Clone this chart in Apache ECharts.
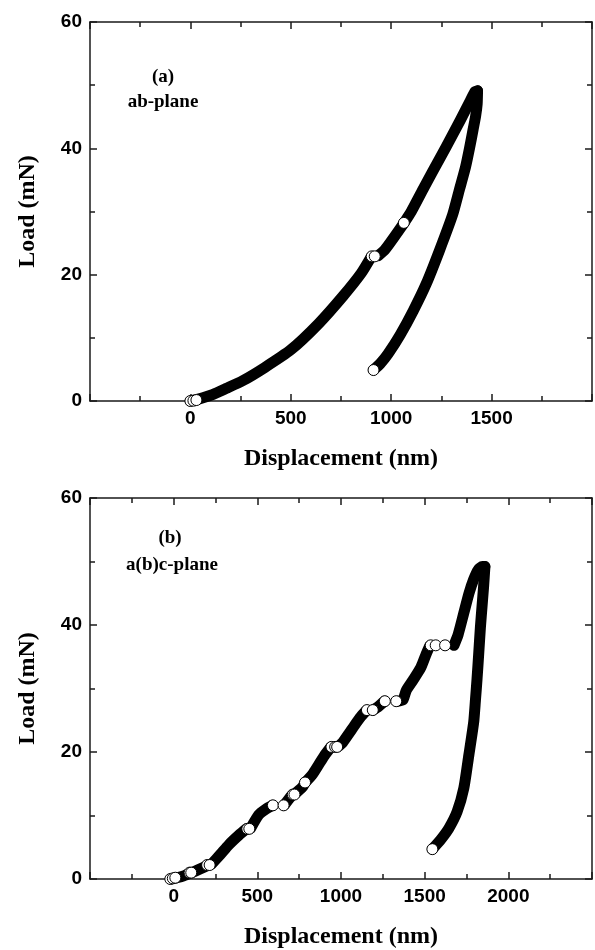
<!DOCTYPE html>
<html>
<head>
<meta charset="utf-8">
<script src="https://cdn.jsdelivr.net/npm/echarts@6/dist/echarts.min.js"></script>
<style>
  html, body { margin: 0; padding: 0; background: #fff; }
  #chart { width: 595px; height: 950px; }
</style>
</head>
<body>
<div id="chart"></div>
<script>
// ---- data: [displacement nm, load mN] ----
// (a) ab-plane, loading branch (split at the pop-ins)
var loadA = [
    [[0, 0], [40, 0.3], [110, 1.0], [180, 2.0], [260, 3.2], [370, 5.3], [500, 8.1], [640, 12.3], [760, 16.6], [850, 20.2], [900, 22.8]],
    [[935, 23.0], [970, 24.0], [1060, 28.0]],
    [[1066, 28.3], [1100, 30.0], [1165, 33.9], [1247, 38.7], [1300, 41.8], [1345, 44.5], [1390, 47.3], [1418, 49.0], [1430, 49.1]]
];
var unloadA = [[1430, 49.1], [1428, 47], [1420, 45], [1408, 43], [1390, 40], [1370, 37], [1340, 33.5], [1306, 29.5], [1240, 23.8], [1175, 18.6], [1110, 14.3], [1045, 10.5], [985, 7.5], [945, 5.9], [912, 4.9]];
var openA = [[0, 0], [15, 0.05], [30, 0.15], [903, 22.9], [918, 22.9], [1063, 28.2], [912, 4.9]];

// (b) a(b)c-plane
var loadB = [
    [[-15, 0], [20, 0.2], [60, 0.5], [100, 0.95]],
    [[110, 1.0], [150, 1.5], [200, 2.1]],
    [[225, 2.3], [280, 3.9], [330, 5.4], [390, 6.9], [435, 7.9]],
    [[460, 8.0], [508, 10.1], [550, 11.0], [590, 11.6]],
    [[660, 11.6], [700, 13.0], [712, 13.3]],
    [[725, 13.4], [770, 14.5], [785, 15.2]],
    [[790, 15.3], [830, 16.5], [864, 17.9], [900, 19.4], [940, 20.8]],
    [[985, 20.9], [1010, 21.5], [1050, 23.0], [1081, 24.2], [1120, 25.6], [1150, 26.5]],
    [[1190, 26.6], [1225, 27.2], [1260, 28.0]],
    [[1340, 28.0], [1370, 28.2], [1390, 29.7], [1430, 31.3], [1477, 33.3], [1510, 35.5], [1530, 36.7]],
    [[1675, 36.8], [1700, 38.5], [1734, 41.9], [1765, 45.0], [1793, 47.2], [1820, 48.7], [1845, 49.2], [1860, 49.2]]
];
var unloadB = [[1860, 49.2], [1852, 46], [1843, 43], [1833, 39.6], [1823, 35.5], [1813, 31.5], [1803, 28], [1793, 24.7], [1764, 19.5], [1734, 14.3], [1694, 10.6], [1645, 8.0], [1596, 6.2], [1546, 4.7]];
var openB = [[-20, 0], [-5, 0.1], [10, 0.2], [95, 1.0], [105, 1.0], [200, 2.2], [215, 2.2], [440, 7.9], [452, 7.9], [593, 11.6], [657, 11.6], [712, 13.3], [722, 13.3], [785, 15.2], [943, 20.8], [965, 20.8], [977, 20.8], [1155, 26.6], [1190, 26.6], [1262, 28.0], [1330, 28.0], [1536, 36.8], [1566, 36.8], [1622, 36.8], [1546, 4.7]];

var xMaxA = 2000, xMaxB = 2500;
var yTicks = [0, 20, 40, 60];

var axisColor = '#1a1a1a';
var sansBold = { fontFamily: 'Liberation Sans', fontWeight: 'bold', fontSize: 19, color: '#000' };
var serifBold = { fontFamily: 'Liberation Serif', fontWeight: 'bold', fontSize: 24, color: '#000' };
var noteFont = 'bold 19px "Liberation Serif"';

function xAxisOf(grid, pos, max, withLabels) {
    return {
        type: 'value', gridIndex: grid, position: pos,
        min: -500, max: max, interval: 500,
        name: withLabels ? 'Displacement (nm)' : '',
        nameLocation: 'middle', nameGap: 46, nameTextStyle: serifBold,
        axisLine: { onZero: false, lineStyle: { color: axisColor, width: 1.5 } },
        axisTick: { inside: true, length: 7, lineStyle: { color: axisColor, width: 1.5 } },
        minorTick: { show: true, splitNumber: 2, length: 5, lineStyle: { color: axisColor, width: 1.5 } },
        splitLine: { show: false },
        axisLabel: {
            show: withLabels, margin: 8, ...sansBold,
            formatter: function (v) { return (v < 0 || v >= max) ? '' : String(v); }
        }
    };
}

function yAxisOf(grid, pos, withLabels) {
    return {
        type: 'value', gridIndex: grid, position: pos,
        min: yTicks[0], max: yTicks[yTicks.length - 1], interval: 20,
        name: withLabels ? 'Load (mN)' : '',
        nameLocation: 'middle', nameGap: 50, nameTextStyle: serifBold,
        axisLine: { onZero: false, lineStyle: { color: axisColor, width: 1.5 } },
        axisTick: { inside: true, length: 7, lineStyle: { color: axisColor, width: 1.5 } },
        minorTick: { show: true, splitNumber: 2, length: 5, lineStyle: { color: axisColor, width: 1.5 } },
        splitLine: { show: false },
        axisLabel: { show: withLabels, margin: 8, ...sansBold }
    };
}

function band(data, xi, yi) {
    return {
        type: 'line', xAxisIndex: xi, yAxisIndex: yi, data: data,
        symbol: 'none', showSymbol: false, smooth: 0.2,
        lineStyle: { color: '#000', width: 11, cap: 'round', join: 'round' },
        z: 2, silent: true
    };
}

function circles(data, xi, yi) {
    return {
        type: 'scatter', xAxisIndex: xi, yAxisIndex: yi, data: data,
        symbol: 'circle', symbolSize: 11,
        itemStyle: { color: '#fff', borderColor: '#000', borderWidth: 1, opacity: 1 },
        z: 5, silent: true
    };
}

var series = [];
loadA.forEach(function (seg) { series.push(band(seg, 0, 0)); });
series.push(band(unloadA, 0, 0));
series.push(circles(openA, 0, 0));
loadB.forEach(function (seg) { series.push(band(seg, 2, 2)); });
series.push(band(unloadB, 2, 2));
series.push(circles(openB, 2, 2));

var chart = echarts.init(document.getElementById('chart'), null, { renderer: 'canvas' });
var option = {
    animation: false,
    backgroundColor: '#fff',
    grid: [
        { left: 90, top: 22, width: 504, height: 379 },
        { left: 90, top: 498, width: 504, height: 383 }
    ],
    xAxis: [
        xAxisOf(0, 'bottom', xMaxA, true),
        xAxisOf(0, 'top', xMaxA, false),
        xAxisOf(1, 'bottom', xMaxB, true),
        xAxisOf(1, 'top', xMaxB, false)
    ],
    yAxis: [
        yAxisOf(0, 'left', true),
        yAxisOf(0, 'right', false),
        yAxisOf(1, 'left', true),
        yAxisOf(1, 'right', false)
    ],
    graphic: [
        { type: 'text', x: 163, y: 77, style: { text: '(a)', align: 'center', verticalAlign: 'middle', font: noteFont, fill: '#000' } },
        { type: 'text', x: 163, y: 102, style: { text: 'ab-plane', align: 'center', verticalAlign: 'middle', font: noteFont, fill: '#000' } },
        { type: 'text', x: 170, y: 538, style: { text: '(b)', align: 'center', verticalAlign: 'middle', font: noteFont, fill: '#000' } },
        { type: 'text', x: 172, y: 565, style: { text: 'a(b)c-plane', align: 'center', verticalAlign: 'middle', font: noteFont, fill: '#000' } }
    ],
    series: series
};
chart.setOption(option, true);
window.onresize = function () {
    chart.resize();
};
</script>
</body>
</html>
